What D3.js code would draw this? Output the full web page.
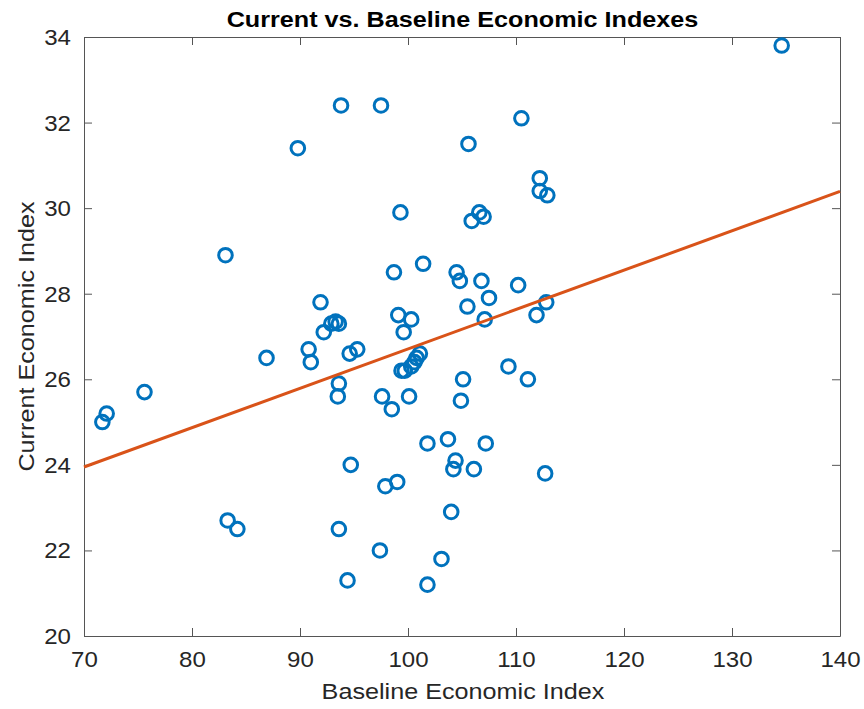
<!DOCTYPE html>
<html>
<head>
<meta charset="utf-8">
<script src="https://cdn.jsdelivr.net/npm/d3@7"></script>
<style>
  html, body { margin: 0; padding: 0; background: #fff; }
  svg { display: block; }
  text { font-family: "Liberation Sans", Arial, Helvetica, sans-serif; fill: #262626; }
</style>
</head>
<body>
<svg id="chart" width="864" height="709"></svg>
<script>
// Baseline economic index (x) and current economic index (y)
const baseline = [134.6, 93.8, 97.5, 110.5, 89.8, 105.6, 112.2, 112.2, 112.9, 99.3,
  106.6, 107.0, 105.9, 83.1, 101.4, 98.7, 104.5, 104.8, 106.8, 110.2,
  107.5, 91.9, 112.8, 105.5, 111.9, 99.1, 107.1, 100.3, 92.9, 93.3,
  93.6, 92.2, 99.6, 90.8, 95.3, 94.6, 86.9, 101.1, 100.8, 100.6,
  100.3, 91.0, 109.3, 99.4, 99.7, 93.6, 105.1, 111.1, 75.6, 93.5,
  97.6, 100.1, 104.9, 72.1, 71.7, 98.5, 103.7, 101.8, 107.2, 104.4,
  104.2, 106.1, 94.7, 112.7, 99.0, 97.9, 83.3, 84.2, 93.6, 104.0,
  97.4, 103.1, 94.4, 101.8];
const current = [33.8, 32.4, 32.4, 32.1, 31.4, 31.5, 30.7, 30.4, 30.3, 29.9,
  29.9, 29.8, 29.7, 28.9, 28.7, 28.5, 28.5, 28.3, 28.3, 28.2,
  27.9, 27.8, 27.8, 27.7, 27.5, 27.5, 27.4, 27.4, 27.3, 27.35,
  27.3, 27.1, 27.1, 26.7, 26.7, 26.6, 26.5, 26.6, 26.5, 26.4,
  26.3, 26.4, 26.3, 26.2, 26.2, 25.9, 26.0, 26.0, 25.7, 25.6,
  25.6, 25.6, 25.5, 25.2, 25.0, 25.3, 24.6, 24.5, 24.5, 24.1,
  23.9, 23.9, 24.0, 23.8, 23.6, 23.5, 22.7, 22.5, 22.5, 22.9,
  22.0, 21.8, 21.3, 21.2];
// Fitted line end points
const fitX = [70, 140];
const fitY = [23.95, 30.39];
// Axis ticks
const xTicks = [70, 80, 90, 100, 110, 120, 130, 140];
const yTicks = [20, 22, 24, 26, 28, 30, 32, 34];

const titleText = "Current vs. Baseline Economic Indexes";
const xLabelText = "Baseline Economic Index";
const yLabelText = "Current Economic Index";

const svg = d3.select("#chart");
const mL = 84, mR = 840, mT = 37, mB = 636;
const SX = 1.12; // horizontal text stretch to match reference glyph widths

const x = d3.scaleLinear().domain([70, 140]).range([mL, mR]);
const y = d3.scaleLinear().domain([20, 34]).range([mB, mT]);

const axisColor = "#555555";
const tickLen = 8;

function styleAxis(g) {
  g.select(".domain").attr("stroke", axisColor).attr("stroke-width", 1);
  g.selectAll(".tick line").attr("stroke", axisColor).attr("stroke-width", 1);
}

// bottom axis (ticks inward)
const gx = svg.append("g").attr("transform", `translate(0,${mB})`)
  .call(d3.axisBottom(x).tickValues(xTicks).tickSizeInner(-tickLen).tickSizeOuter(0).tickPadding(0));
styleAxis(gx);
gx.selectAll(".tick text")
  .attr("y", 0).attr("dy", 0)
  .attr("transform", `translate(0,31) scale(${SX},1)`)
  .style("font-size", "21.5px").attr("fill", "#262626");

// top axis
const gxt = svg.append("g").attr("transform", `translate(0,${mT})`)
  .call(d3.axisTop(x).tickValues(xTicks).tickSizeInner(-tickLen).tickSizeOuter(0).tickFormat(""));
styleAxis(gxt);

// left axis
const gy = svg.append("g").attr("transform", `translate(${mL},0)`)
  .call(d3.axisLeft(y).tickValues(yTicks).tickSizeInner(-tickLen).tickSizeOuter(0).tickPadding(0));
styleAxis(gy);
gy.selectAll(".tick text")
  .attr("x", 0).attr("dy", 0)
  .attr("transform", `translate(-13,7.5) scale(${SX},1)`)
  .style("font-size", "21.5px").attr("fill", "#262626");

// right axis
const gyr = svg.append("g").attr("transform", `translate(${mR},0)`)
  .call(d3.axisRight(y).tickValues(yTicks).tickSizeInner(-tickLen).tickSizeOuter(0).tickFormat(""));
styleAxis(gyr);

// points
const pts = baseline.map((b, i) => ({ b, c: current[i] }));
svg.append("g").selectAll("circle").data(pts).join("circle")
  .attr("cx", d => x(d.b)).attr("cy", d => y(d.c)).attr("r", 6.8)
  .attr("fill", "none").attr("stroke", "#0072BD").attr("stroke-width", 3);

// fitted line
const line = d3.line().x(d => x(d[0])).y(d => y(d[1]));
svg.append("path").datum(fitX.map((v, i) => [v, fitY[i]]))
  .attr("d", line).attr("fill", "none").attr("stroke", "#D95319").attr("stroke-width", 3);

// title
svg.append("text")
  .attr("transform", `translate(${(mL + mR) / 2 + 0.5},27) scale(${SX},1)`)
  .attr("text-anchor", "middle").style("font-size", "22.5px").style("font-weight", "bold")
  .style("fill", "#000").text(titleText);

// x label
svg.append("text")
  .attr("transform", `translate(${(mL + mR) / 2 + 1},699) scale(${SX},1)`)
  .attr("text-anchor", "middle").style("font-size", "22.5px").text(xLabelText);

// y label
svg.append("text")
  .attr("transform", `translate(34,${(mT + mB) / 2}) rotate(-90) scale(${SX},1)`)
  .attr("text-anchor", "middle").style("font-size", "22.5px").text(yLabelText);
</script>
</body>
</html>
